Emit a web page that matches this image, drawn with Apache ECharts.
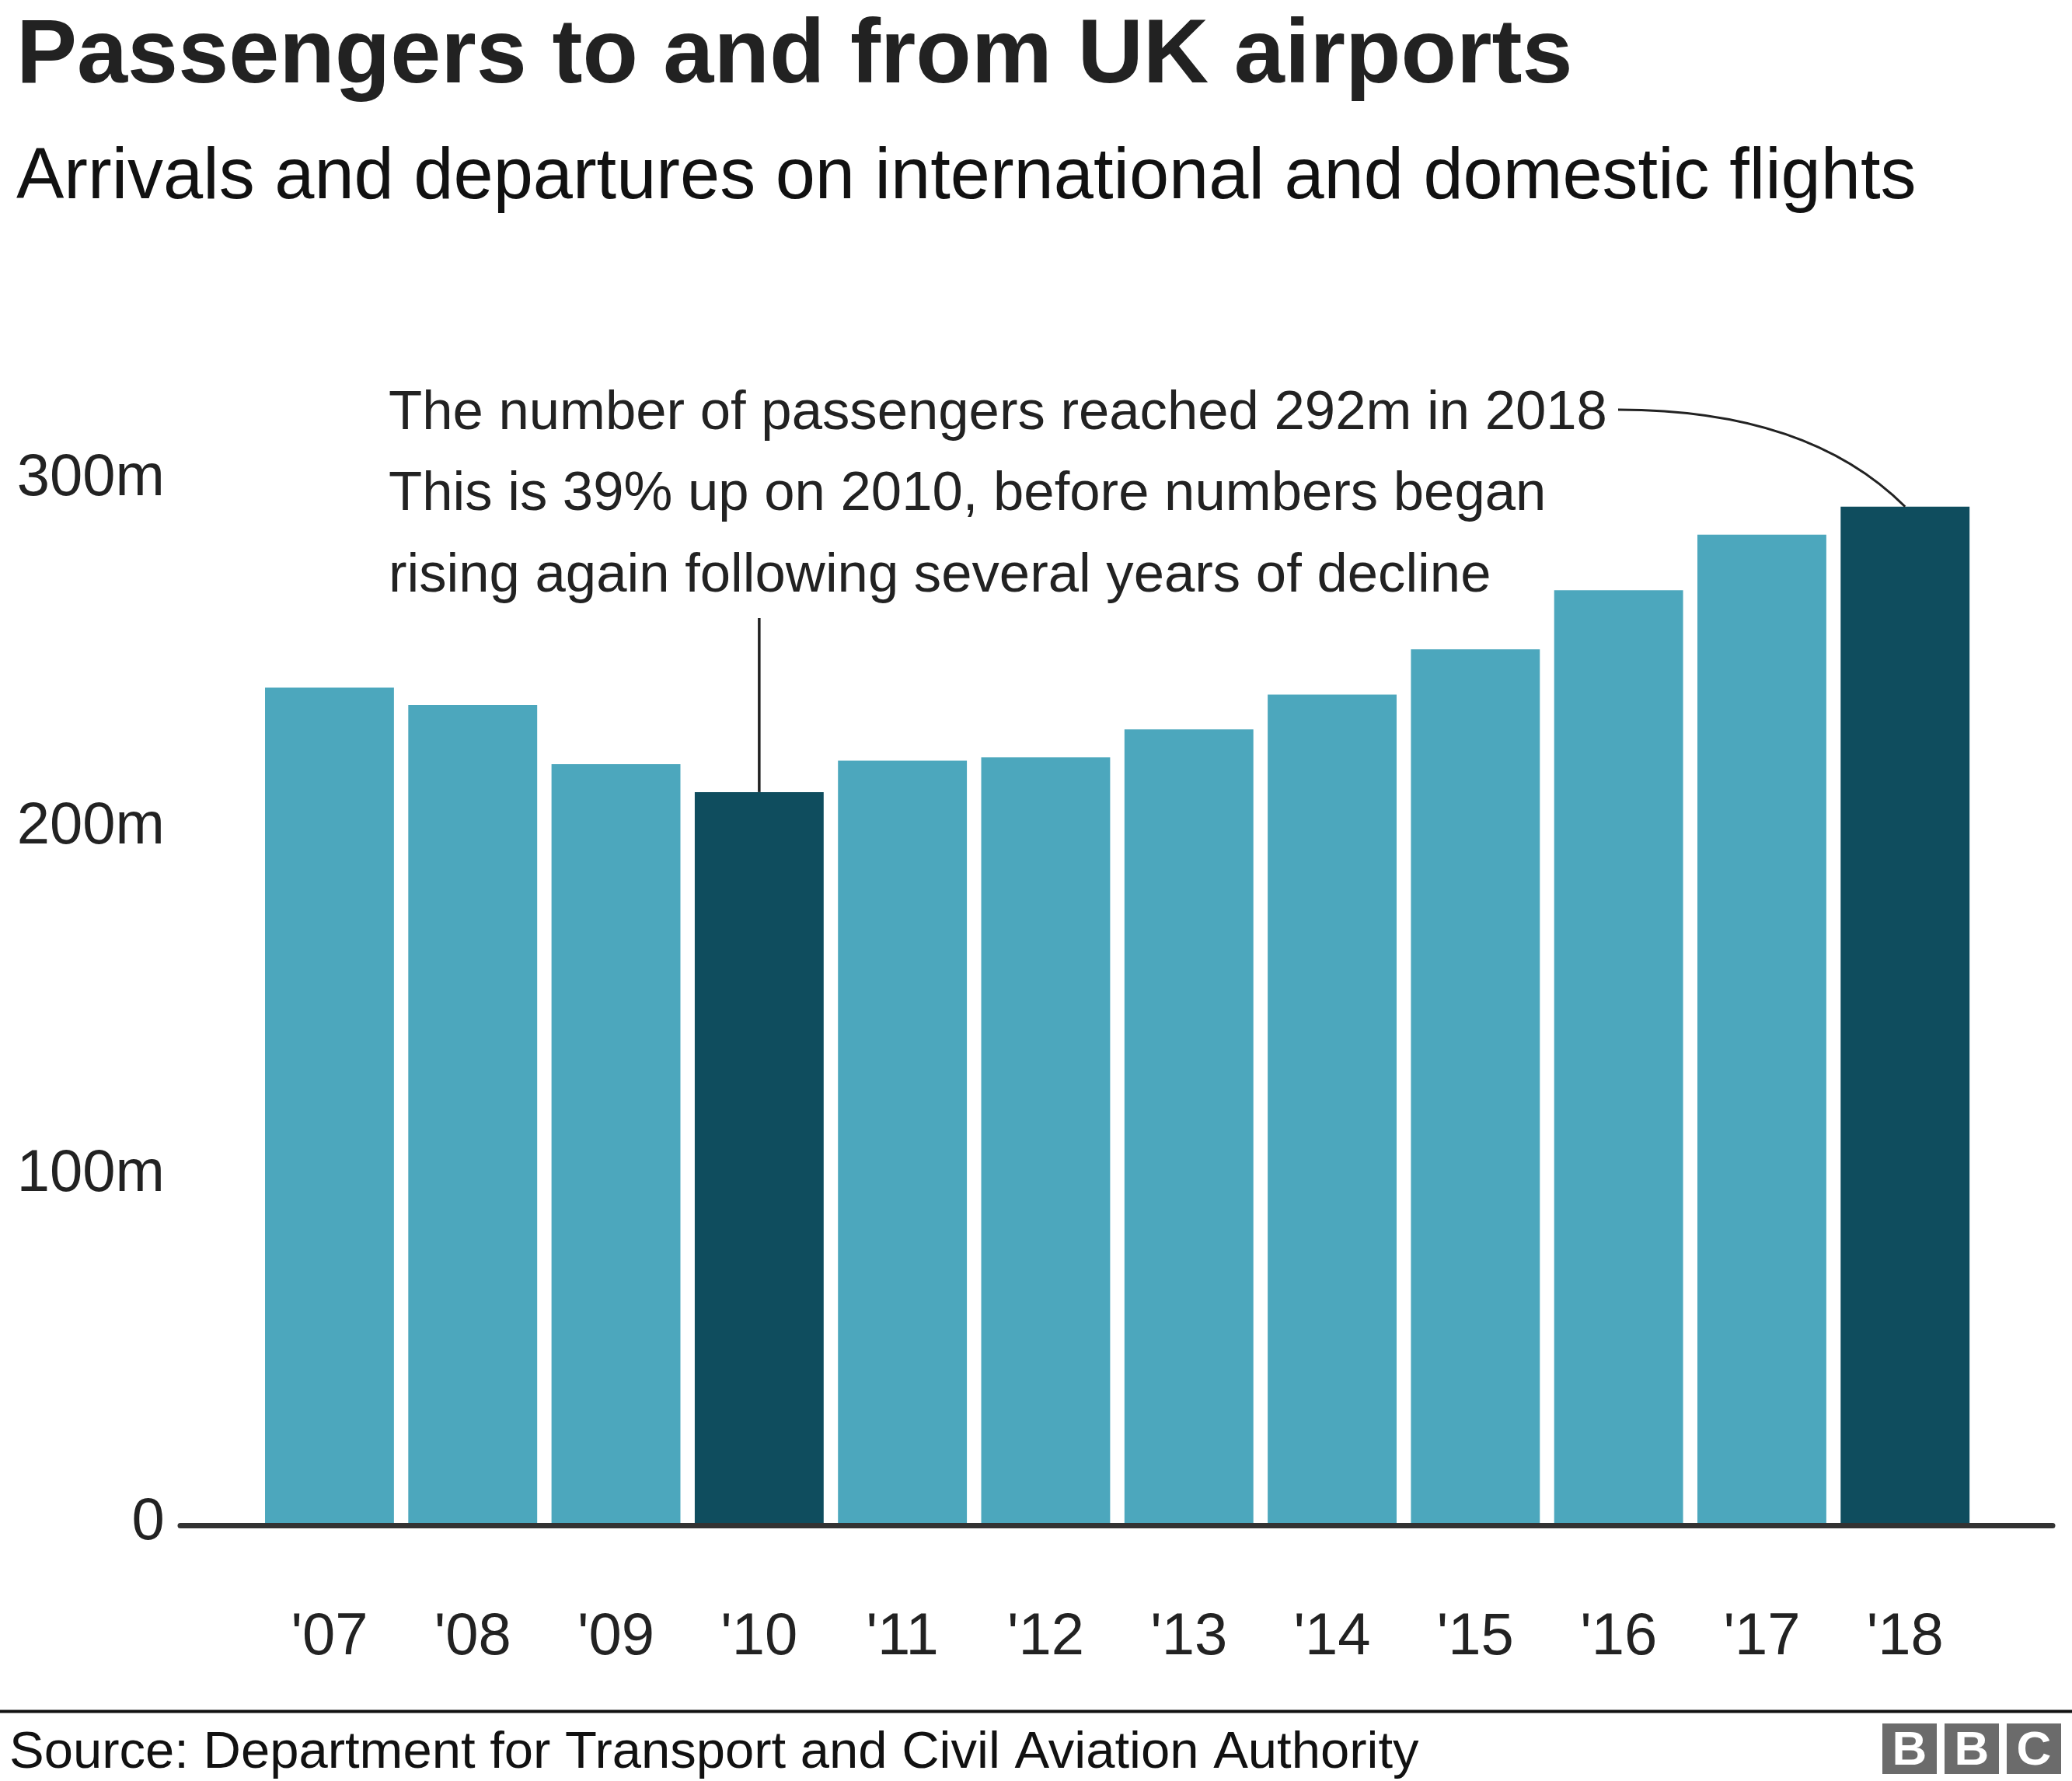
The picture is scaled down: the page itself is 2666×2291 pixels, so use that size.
<!DOCTYPE html>
<html><head><meta charset="utf-8">
<script src="https://cdn.jsdelivr.net/npm/echarts@6/dist/echarts.min.js"></script>
<style>html,body{margin:0;padding:0;background:#fff}#c{width:2666px;height:2291px}</style>
</head><body><div id="c"></div>
<script>
const categories = ["'07","'08","'09","'10","'11","'12","'13","'14","'15","'16","'17","'18"];
const passengers = [240, 235, 218, 210, 219, 220, 228, 238, 251, 268, 284, 292];
const highlighted = ["'10", "'18"];
const yTicks = [0, 100, 200, 300];
const yTickLabels = ['0', '100m', '200m', '300m'];
const titleText = 'Passengers to and from UK airports';
const subtitleText = 'Arrivals and departures on international and domestic flights';
const noteLines = [
  'The number of passengers reached 292m in 2018',
  'This is 39% up on 2010, before numbers began',
  'rising again following several years of decline'
];
const sourceText = 'Source: Department for Transport and Civil Aviation Authority';
const logoLetters = ['B', 'B', 'C'];

const FONT = '"Liberation Sans", Arial, Helvetica, sans-serif';
const LIGHT = '#4ca7bd';
const DARK = '#0f4d5e';
const INK = '#222222';

const chart = echarts.init(document.getElementById('c'), null, {renderer: 'canvas'});

function textEl(text, x, y, size, weight, fill, align) {
  return {
    type: 'text', silent: true, z: 10,
    style: {
      text: text, x: x, y: y, fill: fill || INK,
      font: (weight || 'normal') + ' ' + size + 'px ' + FONT,
      fontSize: size, fontFamily: FONT, fontWeight: weight || 'normal',
      textAlign: align || 'left', align: align || 'left',
      textVerticalAlign: 'middle', verticalAlign: 'middle'
    }
  };
}

function baseGraphics() {
  const g = [];
  g.push(textEl(titleText, 21, 74, 117, 'bold', INK));
  g.push(textEl(subtitleText, 21, 230, 92, 'normal', '#111'));
  noteLines.forEach((t, i) => g.push(textEl(t, 500, 532 + i * 104.5, 70.7, 'normal', INK)));
  g.push({type: 'line', silent: true, shape: {x1: 0, y1: 2201.5, x2: 2666, y2: 2201.5}, style: {stroke: '#111', lineWidth: 4}});
  g.push(textEl(sourceText, 12, 2256, 67, 'normal', '#111'));
  logoLetters.forEach((l, i) => {
    const x = 2422 + i * 80;
    g.push({type: 'rect', silent: true, shape: {x: x, y: 2217, width: 70, height: 65}, style: {fill: '#6b6b6b'}});
    g.push(textEl(l, x + 35, 2253, 62, 'bold', '#fff', 'center'));
  });
  return g;
}

const option = {
  animation: false,
  backgroundColor: '#fff',
  grid: [
    {left: 331.8, right: 122.6, top: 616, bottom: 332},
    {left: 232, right: 25, top: 616, bottom: 328.5}
  ],
  xAxis: [
    {
      type: 'category', gridIndex: 0, data: categories,
      axisLine: {show: false}, axisTick: {show: false},
      axisLabel: {margin: 110, fontSize: 76, fontFamily: FONT, color: INK}
    },
    {
      type: 'value', gridIndex: 1, min: 0, max: 1,
      axisLine: {show: true, lineStyle: {color: '#333', width: 7}},
      axisTick: {show: false}, axisLabel: {show: false}, splitLine: {show: false}
    }
  ],
  yAxis: [
    {
      type: 'value', gridIndex: 0, min: yTicks[0], max: yTicks[yTicks.length - 1], interval: 100,
      axisLine: {show: false}, axisTick: {show: false}, splitLine: {show: false},
      axisLabel: {
        margin: 120, fontSize: 76, fontFamily: FONT, color: INK, padding: [10, 0, 0, 0],
        formatter: v => yTickLabels[yTicks.indexOf(v)]
      }
    },
    {type: 'value', gridIndex: 1, show: false, min: 0, max: 1}
  ],
  series: [{
    type: 'bar', xAxisIndex: 0, yAxisIndex: 0,
    data: passengers,
    barCategoryGap: '10%',
    itemStyle: {color: p => highlighted.indexOf(categories[p.dataIndex]) >= 0 ? DARK : LIGHT},
    emphasis: {disabled: true}
  }],
  graphic: baseGraphics()
};
chart.setOption(option);

// Leader lines anchored to the annotated bars
const p10 = chart.convertToPixel({gridIndex: 0}, [categories[3], passengers[3]]);
const p18 = chart.convertToPixel({gridIndex: 0}, [categories[11], passengers[11]]);
const startX = 2082, startY = 527;
const g = baseGraphics();
g.push({
  type: 'bezierCurve', silent: true, z: 10,
  shape: {x1: startX, y1: startY, x2: p18[0], y2: p18[1], cpx1: p18[0] - (p18[1] - startY), cpy1: startY},
  style: {stroke: INK, lineWidth: 3, fill: null}
});
g.push({
  type: 'line', silent: true, z: 10,
  shape: {x1: p10[0], y1: 795, x2: p10[0], y2: p10[1]},
  style: {stroke: INK, lineWidth: 3.5}
});
chart.setOption({graphic: g}, {replaceMerge: ['graphic']});
</script>
</body></html>
